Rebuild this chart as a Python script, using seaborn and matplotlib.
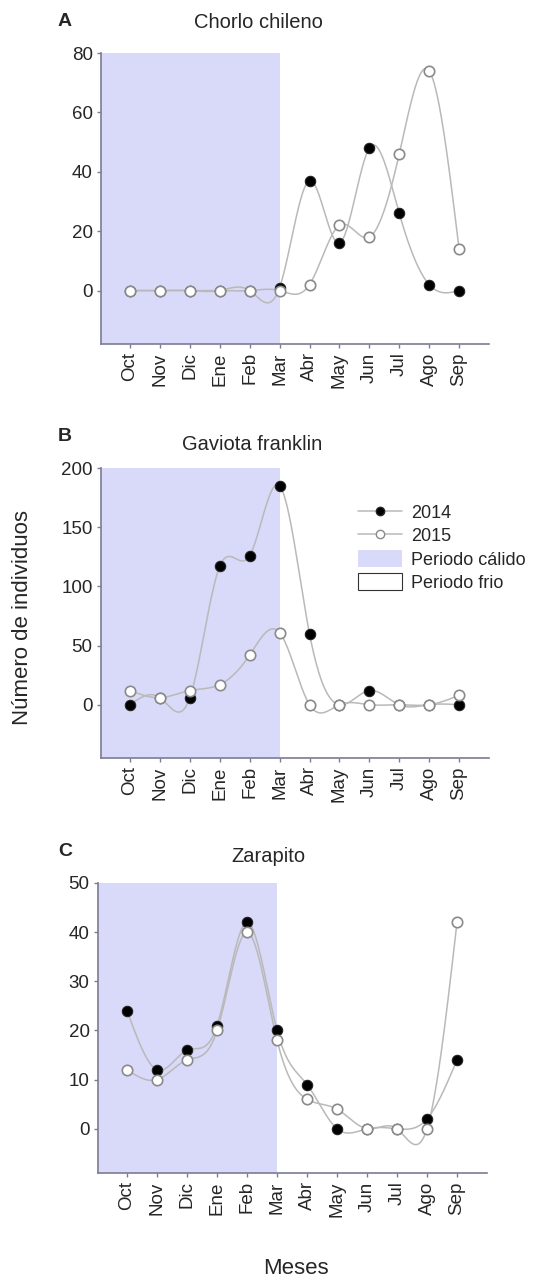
import numpy as np
import pandas as pd
import matplotlib
matplotlib.use("Agg")
import matplotlib.pyplot as plt
from matplotlib.lines import Line2D
from matplotlib.patches import Patch
import seaborn as sns

# ---------------- data ----------------
months = ["Oct", "Nov", "Dic", "Ene", "Feb", "Mar", "Abr", "May", "Jun", "Jul", "Ago", "Sep"]
warm_end = "Mar"

chorlo_2014 = [0, 0, 0, 0, 0, 1, 37, 16, 48, 26, 2, 0]
chorlo_2015 = [0, 0, 0, 0, 0, 0, 2, 22, 18, 46, 74, 14]

gaviota_2014 = [0, 6, 6, 117, 126, 185, 60, 0, 12, 0, 0, 0]
gaviota_2015 = [12, 6, 12, 17, 42, 61, 0, 0, 0, 0, 0, 8]

zarapito_2014 = [24, 12, 16, 21, 42, 20, 9, 0, 0, 0, 2, 14]
zarapito_2015 = [12, 10, 14, 20, 40, 18, 6, 4, 0, 0, 0, 42]

panel_letters = ["A", "B", "C"]
panel_titles = ["Chorlo chileno", "Gaviota franklin", "Zarapito"]
y_ticks = [[0, 20, 40, 60, 80], [0, 50, 100, 150, 200], [0, 10, 20, 30, 40, 50]]
y_limits = [(-18, 80), (-45, 200), (-9, 50)]
legend_labels = ["2014", "2015", "Periodo cálido", "Periodo frio"]
ylabel = "Número de individuos"
xlabel = "Meses"

# ---------------- style ----------------
sns.set_theme(style="ticks")
plt.rcParams["font.family"] = ["Liberation Sans", "DejaVu Sans"]

WARM = "#d9d9fa"
LINE = "#b9b9b9"
SPINE = "#7c7c94"
TXT = "#262626"


def natural_spline(y, n=400):
    y = np.asarray(y, dtype=float)
    x = np.arange(len(y), dtype=float)
    N = len(x)
    h = np.diff(x)
    A = np.zeros((N, N))
    b = np.zeros(N)
    A[0, 0] = 1
    A[-1, -1] = 1
    for i in range(1, N - 1):
        A[i, i - 1] = h[i - 1]
        A[i, i] = 2 * (h[i - 1] + h[i])
        A[i, i + 1] = h[i]
        b[i] = 6 * ((y[i + 1] - y[i]) / h[i] - (y[i] - y[i - 1]) / h[i - 1])
    M = np.linalg.solve(A, b)
    xs = np.linspace(x[0], x[-1], n)
    idx = np.clip(np.searchsorted(x, xs) - 1, 0, N - 2)
    x0, x1 = x[idx], x[idx + 1]
    hh = x1 - x0
    ys = (M[idx] * (x1 - xs) ** 3 / (6 * hh) + M[idx + 1] * (xs - x0) ** 3 / (6 * hh)
          + (y[idx] / hh - M[idx] * hh / 6) * (x1 - xs)
          + (y[idx + 1] / hh - M[idx + 1] * hh / 6) * (xs - x0))
    return xs, ys


W, H = 543, 1286
fig = plt.figure(figsize=(W / 100, H / 100), dpi=100)

# axes boxes in pixels: left, right, top, bottom
boxes = [(101, 489, 53, 344), (101, 489, 468, 758), (98, 487, 883, 1173)]
letter_pos = [(58, 22), (58, 437), (58, 852)]
title_pos = [(258, 22), (252, 445), (268, 857)]

data = [(chorlo_2014, chorlo_2015), (gaviota_2014, gaviota_2015), (zarapito_2014, zarapito_2015)]

xpos = np.arange(len(months))
xlim = (-0.97, 12.0)

for k, (s14, s15) in enumerate(data):
    l, r, t, btm = boxes[k]
    ax = fig.add_axes([l / W, 1 - btm / H, (r - l) / W, (btm - t) / H])
    ax.set_xlim(*xlim)
    ax.set_ylim(*y_limits[k])
    ax.axvspan(xlim[0], months.index(warm_end), color=WARM, lw=0, zorder=0)

    for s in (s14, s15):
        xs, ys = natural_spline(s)
        sns.lineplot(x=xs, y=ys, ax=ax, color=LINE, lw=1.1, zorder=2, sort=False)
    df14 = pd.DataFrame({"x": xpos, "y": s14})
    df15 = pd.DataFrame({"x": xpos, "y": s15})
    sns.scatterplot(data=df14, x="x", y="y", ax=ax, color="black", edgecolor="#222222",
                    s=56, linewidth=0.8, zorder=3)
    sns.scatterplot(data=df15, x="x", y="y", ax=ax, color="white", edgecolor="#8a8a8a",
                    s=56, linewidth=1.2, zorder=4)

    ax.set_xticks(xpos)
    ax.set_xticklabels(months, rotation=90, fontsize=13.5, color=TXT)
    ax.set_yticks(y_ticks[k])
    ax.set_yticklabels([str(v) for v in y_ticks[k]], fontsize=13.5, color=TXT)
    ax.set_xlabel("")
    ax.set_ylabel("")
    ax.tick_params(axis="both", length=3, width=1, color=SPINE, pad=3)
    for side in ("top", "right"):
        ax.spines[side].set_visible(False)
    for side in ("left", "bottom"):
        ax.spines[side].set_color(SPINE)
        ax.spines[side].set_linewidth(1.2)
    ax.patch.set_alpha(0)

    lx, ly = letter_pos[k]
    fig.text(lx / W, 1 - ly / H, panel_letters[k], fontsize=14, fontweight="bold",
             ha="left", va="center", color=TXT)
    tx, ty = title_pos[k]
    fig.text(tx / W, 1 - ty / H, panel_titles[k], fontsize=14.5, ha="center", va="center", color=TXT)

    if k == 1:
        handles = [
            Line2D([0], [0], color=LINE, lw=1.1, marker="o", markerfacecolor="black",
                   markeredgecolor="#222222", markersize=6),
            Line2D([0], [0], color=LINE, lw=1.1, marker="o", markerfacecolor="white",
                   markeredgecolor="#8a8a8a", markersize=6),
            Patch(facecolor=WARM, edgecolor="none"),
            Patch(facecolor="white", edgecolor="#333333", linewidth=0.8),
        ]
        ax.legend(handles, legend_labels, loc="upper left", bbox_to_anchor=(0.64, 0.91),
                  frameon=False, fontsize=13, handlelength=2.4, handleheight=1.1,
                  handletextpad=0.5, labelspacing=0.25, borderpad=0)

fig.text(23 / W, 1 - 618 / H, ylabel, rotation=90, fontsize=16, ha="center", va="center", color=TXT)
fig.text(296 / W, 1 - 1268 / H, xlabel, fontsize=16, ha="center", va="center", color=TXT)

fig.savefig("out.png", dpi=100, facecolor="white")
